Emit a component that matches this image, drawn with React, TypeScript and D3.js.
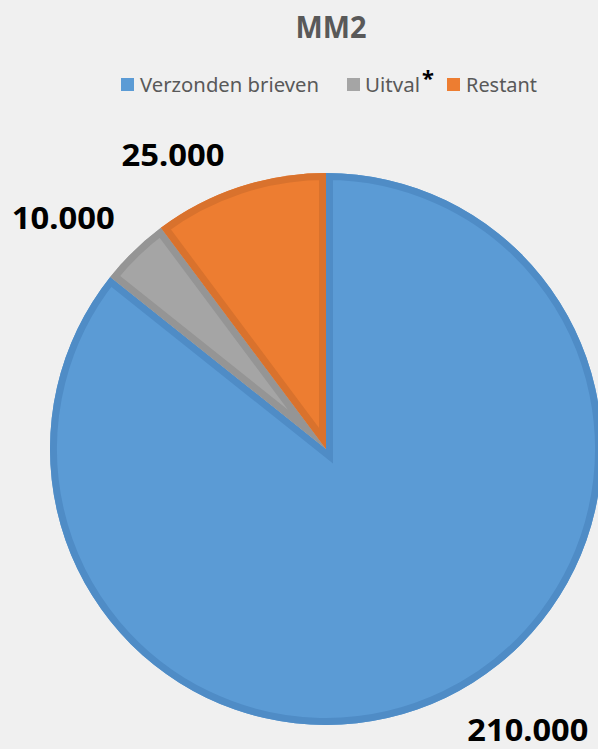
import React from "react";
import * as d3 from "d3";

const categories = ["Verzonden brieven", "Uitval", "Restant"];
const values = [210000, 10000, 25000];
const valueLabels = ["210.000", "10.000", "25.000"];
const title = "MM2";

const fills = ["#5b9bd5", "#a5a5a5", "#ed7d31"];
const strokes = ["#4f8cc6", "#959595", "#d9722d"];

const W = 598;
const H = 749;
const cx = 326;
const cy = 449;
const R = 276;

// label placement tweaks (angle offset in radians, radius, width, baseline shift)
const labelStyle = [
  { da: -0.17, r: 348, w: 121, dy: 9 },
  { da: -0.08, r: 350, w: 103, dy: 11 },
  { da: -0.16, r: 331, w: 103, dy: 11 },
];

export default function App() {
  const pie = d3.pie<number>().sort(null).value((d) => d);
  const arcs = pie(values);
  const arc = d3.arc<d3.PieArcDatum<number>>().innerRadius(0).outerRadius(R);
  const fmt = d3.format(",");
  return (
    <svg width={W} height={H} style={{ position: "absolute", left: 0, top: 0, background: "#f0f0f0" }}>
      <rect x={0} y={0} width={W} height={H} fill="#f0f0f0" />
      <defs>
        {arcs.map((a, i) => (
          <clipPath id={`clip${i}`} key={i}>
            <path d={arc(a) || ""} />
          </clipPath>
        ))}
      </defs>
      <text x={331} y={38} textAnchor="middle" fontFamily="Noto Sans, sans-serif" fontWeight="bold" fontSize={31} fill="#595959" textLength={71} lengthAdjust="spacingAndGlyphs">
        {title}
      </text>
      {/* legend */}
      <g fontFamily="Noto Sans, sans-serif" fontSize={19} fill="#595959">
        <rect x={121} y={78} width={13} height={13} fill={fills[0]} />
        <text x={140} y={92} textLength={179} lengthAdjust="spacingAndGlyphs">{categories[0]}</text>
        <rect x={347} y={78} width={13} height={13} fill={fills[1]} />
        <text x={365} y={92} textLength={55} lengthAdjust="spacingAndGlyphs">{categories[1]}</text>
        <text x={422} y={86} fontSize={22} fontWeight="bold" fill="#000">*</text>
        <rect x={447} y={78} width={13} height={13} fill={fills[2]} />
        <text x={466} y={92} textLength={71} lengthAdjust="spacingAndGlyphs">{categories[2]}</text>
      </g>
      <g transform={`translate(${cx},${cy})`}>
        {arcs.map((a, i) => (
          <path key={i} d={arc(a) || ""} fill={fills[i]} />
        ))}
        {arcs.map((a, i) => (
          <path
            key={`s${i}`}
            d={arc(a) || ""}
            fill="none"
            stroke={strokes[i]}
            strokeWidth={14}
            strokeLinejoin="miter"
            strokeMiterlimit={10}
            clipPath={`url(#clip${i})`}
          />
        ))}
      </g>
      {arcs.map((a, i) => {
        const mid = (a.startAngle + a.endAngle) / 2 + labelStyle[i].da;
        const lr = labelStyle[i].r;
        const x = cx + Math.sin(mid) * lr;
        const y = cy - Math.cos(mid) * lr;
        return (
          <text
            key={`l${i}`}
            x={x}
            y={y + labelStyle[i].dy}
            textAnchor="middle"
            fontFamily="Noto Sans, sans-serif"
            fontWeight="bold"
            fontSize={31}
            fill="#000"
            textLength={labelStyle[i].w}
            lengthAdjust="spacingAndGlyphs"
            data-value={fmt(values[i])}
          >
            {valueLabels[i]}
          </text>
        );
      })}
    </svg>
  );
}
